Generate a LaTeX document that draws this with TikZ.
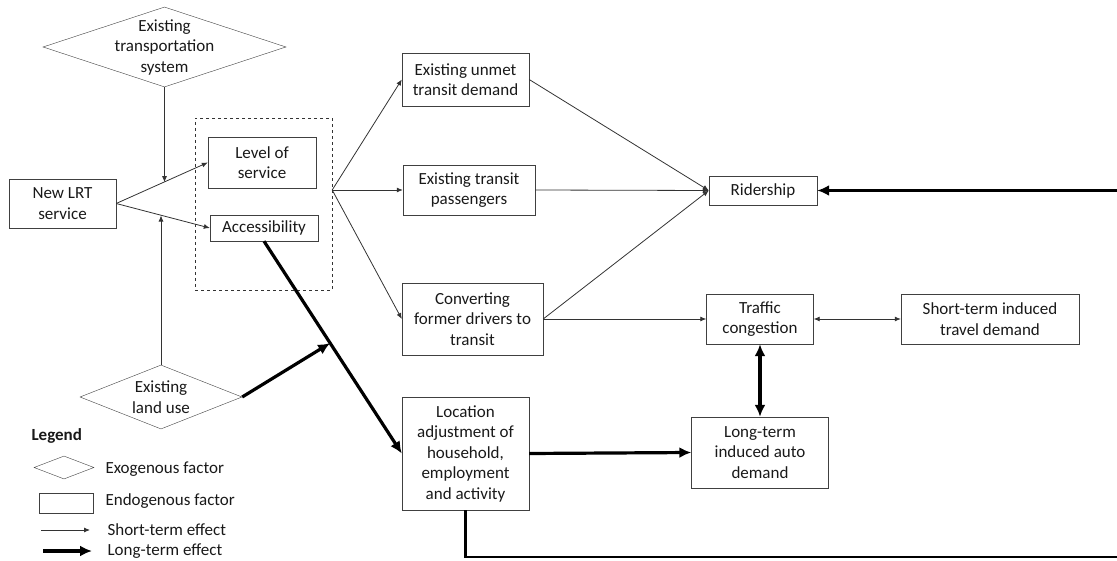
\documentclass[tikz,border=0pt]{standalone}
\usepackage{fontspec}
\setmainfont{Carlito}
\usepackage{tikz}
\usetikzlibrary{shapes.geometric, arrows.meta}
\definecolor{lineColor}{RGB}{64,64,64}
\tikzstyle{diagram} = [x = 1pt, y = -1pt, every node/.style={font=\fontsize{17}{20.5}\selectfont, text=black!90}]
\tikzstyle{endoBox} = [draw=lineColor, rectangle, align=center, inner sep=0pt]
\tikzstyle{exoDiamond} = [draw=lineColor, diamond, inner sep=0pt]
\tikzstyle{groupBox} = [draw=black!80, dashed, rectangle]
\tikzstyle{shortEffect} = [draw=black!80, line width=.8pt, -{Latex[length=6pt, width=5pt]}]
\tikzstyle{shortBoth} = [shortEffect, {Latex[length=6pt, width=5pt]}-{Latex[length=6pt, width=5pt]}]
\tikzstyle{longEffect} = [draw=black, line width=3.2pt, -{Latex[length=12pt, width=11pt]}]
\tikzstyle{longBoth} = [longEffect, {Latex[length=12pt, width=11pt]}-{Latex[length=12pt, width=11pt]}]

\begin{document}
\begin{tikzpicture}[diagram]
  \clip (0,0) rectangle (1117,561);

  \node (tps) [exoDiamond, minimum width=243, minimum height=80, label={[align=center]center:Existing\\transportation\\system}] at (164.5,47) {};
  \node (lu) [exoDiamond, minimum width=162, minimum height=64, label={[align=center]center:Existing\\land use}] at (161,397) {};
  \node (lrt) [endoBox, minimum width=107, minimum height=49] at (62.5,203.5) {New LRT\\service};
  \node (grp) [groupBox, minimum width=137, minimum height=172] at (263.5,204) {};
  \node (los) [endoBox, minimum width=108, minimum height=51] at (262,162.5) {Level of\\service};
  \node (acc) [endoBox, minimum width=108, minimum height=26] at (264,228) {Accessibility};

  \node (unmet) [endoBox, minimum width=127, minimum height=53] at (465.5,79.5) {Existing unmet\\transit demand};
  \node (pas) [endoBox, minimum width=132, minimum height=50] at (469,190) {Existing transit\\passengers};
  \node (conv) [endoBox, minimum width=141, minimum height=72] at (472.5,319) {Converting\\former drivers to\\transit};
  \node (loc) [endoBox, minimum width=127, minimum height=113] at (465.5,453.5) {Location\\adjustment of\\household,\\employment\\and activity};
  \node (rid) [endoBox, minimum width=108, minimum height=29] at (763,190.5) {Ridership};
  \node (tc) [endoBox, minimum width=107, minimum height=50] at (760,319) {Traffic\\congestion};
  \node (std) [endoBox, minimum width=178, minimum height=50] at (990,319) {Short-term induced\\travel demand};
  \node (ltd) [endoBox, minimum width=137, minimum height=71] at (760,452.5) {Long-term\\induced auto\\demand};

  \draw [shortEffect] (lrt.east) -- coordinate[pos=.52] (tpsHit) (los.west);
  \draw [shortEffect] (lrt.east) -- coordinate[pos=.49] (luHit) (acc.west);
  \draw [shortEffect] (tps.south) -- (tps.south |- tpsHit);
  \draw [shortEffect] (lu.north) -- (lu.north |- luHit);
  \draw [longEffect] (acc.south) -- coordinate[pos=.48] (accHit) (loc.west);
  \draw [longEffect] (lu.east) -- (accHit);

  \coordinate (fan) at (grp.east |- pas.west);
  \foreach \target in {unmet, pas, conv}
    \draw [shortEffect] (fan) -- (\target.west);
  \foreach \source in {unmet, pas, conv}
    \draw [shortEffect] (\source.east) -- (rid.west);
  \draw [shortEffect] (conv.east) -- (tc.west);
  \draw [shortBoth] (tc.east) -- (std.west);
  \draw [longBoth] (tc.south) -- (ltd.north);
  \draw [longEffect] (loc.east) -- (ltd.west);
  \coordinate (loopCorner) at (1130,557);
  \draw [longEffect, line width=2.8pt] (loc.south) |- (loopCorner) |- (rid.east);

  \node (legendTitle) [anchor=west, font=\fontsize{17}{20.5}\selectfont\bfseries] at (28,436) {Legend};
  \node (exoKey) [exoDiamond, minimum width=60, minimum height=23] at (64,467.5) {};
  \node (exoText) [anchor=west] at (102,469) {Exogenous factor};
  \node (endoKey) [endoBox, minimum width=54, minimum height=20] at (66,503) {};
  \node (endoText) [anchor=west] at (102,501) {Endogenous factor};
  \coordinate (shortKeyA) at (41,530);
  \coordinate (shortKeyB) at (90,530);
  \draw [shortEffect] (shortKeyA) -- (shortKeyB);
  \node (shortText) [anchor=west] at (104,530) {Short-term effect};
  \coordinate (longKeyA) at (43,551);
  \coordinate (longKeyB) at (92,551);
  \draw [longEffect] (longKeyA) -- (longKeyB);
  \node (longText) [anchor=west] at (104,551) {Long-term effect};
\end{tikzpicture}
\end{document}
